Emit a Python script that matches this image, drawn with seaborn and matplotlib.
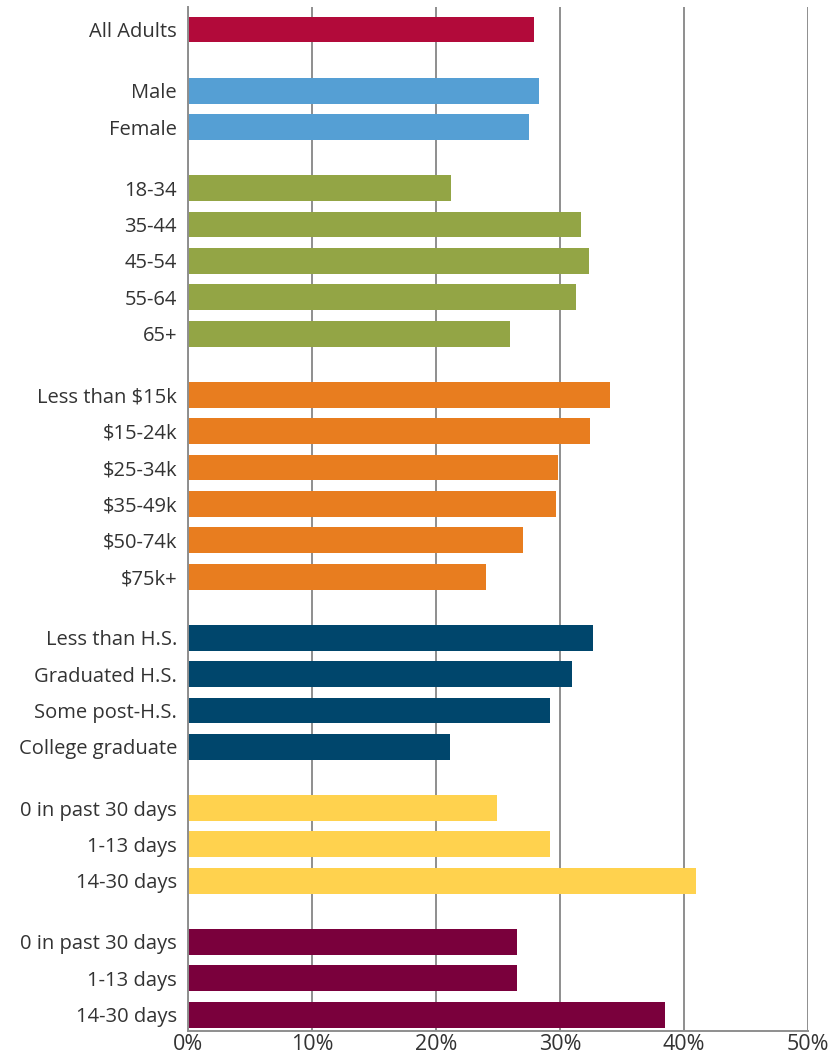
import pandas as pd
import matplotlib.pyplot as plt
import seaborn as sns

# groups of the chart, top to bottom
groups = ["all", "sex", "age", "income", "education", "days1", "days2"]
labels = [
    ["All Adults"],
    ["Male", "Female"],
    ["18-34", "35-44", "45-54", "55-64", "65+"],
    ["Less than $15k", "$15-24k", "$25-34k", "$35-49k", "$50-74k", "$75k+"],
    ["Less than H.S.", "Graduated H.S.", "Some post-H.S.", "College graduate"],
    ["0 in past 30 days", "1-13 days", "14-30 days"],
    ["0 in past 30 days", "1-13 days", "14-30 days"],
]
values = [
    [27.9],
    [28.3, 27.5],
    [21.2, 31.7, 32.3, 31.3, 26.0],
    [34.0, 32.4, 29.8, 29.7, 27.0, 24.0],
    [32.7, 31.0, 29.2, 21.1],
    [24.9, 29.2, 41.0],
    [26.5, 26.5, 38.5],
]
colors = ["#B20A3A", "#559FD4", "#93A545", "#E87D1F", "#00466C", "#FFD24E", "#7A003C"]

# build long table with row positions (extra gap between groups)
gap = 0.68
rows = []
pos = 0.0
for gi, g in enumerate(groups):
    for lab, v in zip(labels[gi], values[gi]):
        rows.append({"group": g, "label": lab, "value": v, "pos": pos})
        pos += 1
    pos += gap
df = pd.DataFrame(rows)

plt.rcParams['font.family'] = ['Open Sans', 'DejaVu Sans']
fig = plt.figure(figsize=(8.39, 10.61), dpi=100)
ax = fig.add_axes([188 / 839, 30 / 1061, 620 / 839, 1024 / 1061])

sns.barplot(data=df, x="value", y="pos", hue="group", orient="y", native_scale=True,
            palette=dict(zip(groups, colors)), dodge=False, width=0.71,
            saturation=1, linewidth=0, legend=False, ax=ax)

ax.set_xlim(0, 50)
ax.set_ylim(df["pos"].max() + 0.45, -0.62)
ax.set_xticks(range(0, 51, 10))
ax.set_xticklabels([f"{t}%" for t in range(0, 51, 10)])
ax.set_yticks(df["pos"])
ax.set_yticklabels(df["label"])
ax.tick_params(axis="both", length=0, labelcolor="#333333")
ax.tick_params(axis="y", pad=8, labelsize=14.5)
ax.tick_params(axis="x", pad=2, labelsize=15.5)
ax.set_xlabel("")
ax.set_ylabel("")

ax.grid(axis="x", color="#8e8e8e", linewidth=1.4)
ax.set_axisbelow(True)
for s in ["top", "right"]:
    ax.spines[s].set_visible(False)
for s in ["left", "bottom"]:
    ax.spines[s].set_color("#8e8e8e")
    ax.spines[s].set_linewidth(1.4)

fig.savefig("out.png", dpi=100)
